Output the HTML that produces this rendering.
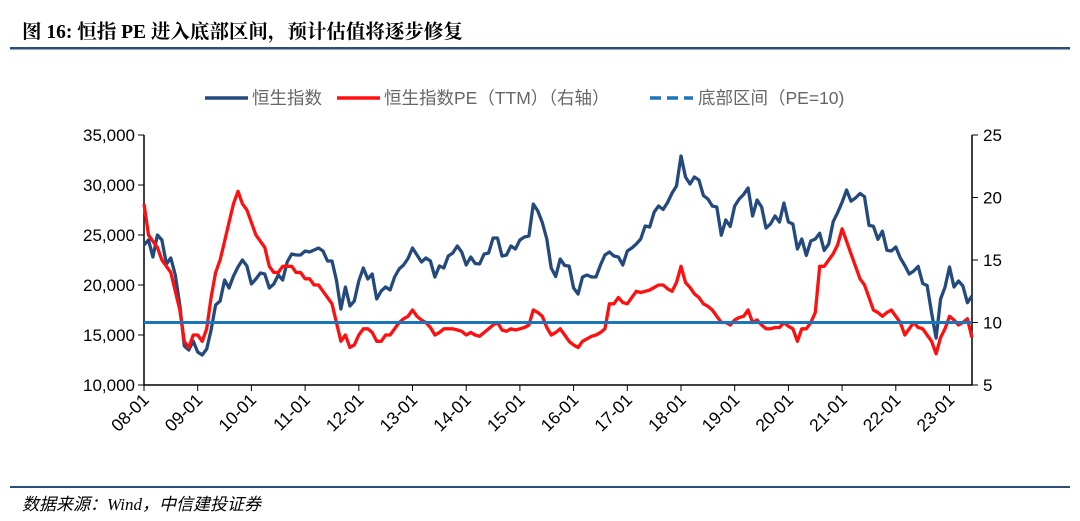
<!DOCTYPE html>
<html><head><meta charset="utf-8"><style>
body{margin:0;background:#fff;width:1080px;height:521px;overflow:hidden;font-family:"Liberation Sans","Noto Sans CJK SC",sans-serif}
svg{position:absolute;left:0;top:0}
</style></head><body>
<svg id="c" width="1080" height="521">
<text x="22" y="38" font-family="Liberation Serif,'Noto Serif CJK SC',serif" font-weight="bold" font-size="19.5" fill="#000">图 16: 恒指 PE 进入底部区间，预计估值将逐步修复</text>
<rect x="10" y="47" width="1060" height="2.5" fill="#2c4f7c"/>
<g font-size="17.5" fill="#666">
<g><line x1="205" y1="98" x2="248" y2="98" stroke="#244a7d" stroke-width="3.5"/><text x="252" y="104">恒生指数</text></g>
<g><line x1="337" y1="98" x2="380" y2="98" stroke="#ff1010" stroke-width="3.5"/><text x="384" y="104">恒生指数PE（TTM）（右轴）</text></g>
<g><line x1="650" y1="98" x2="693" y2="98" stroke="#1a75bb" stroke-width="3.5" stroke-dasharray="11,6"/><text x="698" y="104">底部区间（PE=10)</text></g>
</g>
<g id="axes"></g>
<g id="marks"></g>
<rect x="10" y="486" width="1060" height="2" fill="#2c4f7c"/>
<text x="22" y="510" font-size="17" font-style="italic" fill="#000" font-family="Liberation Serif,'Noto Sans CJK SC',serif">数据来源：Wind，中信建投证券</text>
</svg>
<script>
const yearLabels=["08-01","09-01","10-01","11-01","12-01","13-01","14-01","15-01","16-01","17-01","18-01","19-01","20-01","21-01","22-01","23-01"];
const leftTicks=[10000,15000,20000,25000,30000,35000];
const rightTicks=[5,10,15,20,25];
const hsi=[24000,24500,22800,25000,24500,22100,22700,21000,18000,13900,13500,14400,
13300,13000,13600,15500,18000,18400,20500,19700,20900,21800,22500,21900,
20100,20600,21200,21100,19700,20100,21000,20500,22300,23100,23000,23000,
23400,23300,23500,23700,23400,22400,22400,20500,17600,19800,17900,18400,
20400,21700,20600,21100,18600,19400,19800,19500,20800,21600,22000,22650,
23700,23000,22300,22700,22400,20800,21900,21700,22900,23200,23900,23300,
22000,22800,22150,22100,23100,23200,24700,24700,22900,23000,23900,23600,
24500,24800,24900,28100,27400,26250,24600,21700,20850,22600,21950,21900,
19700,19100,20800,21000,20800,20800,22000,23000,23300,22900,22800,22000,
23400,23700,24100,24600,25900,25800,27300,27900,27550,28250,29200,29900,
32900,30800,30100,30800,30500,28950,28600,27900,27800,24980,26500,25850,
27900,28600,29050,29700,26900,28500,27800,25700,26100,26900,26300,28200,
26300,26100,23600,24600,22960,24400,24600,25170,23460,24100,26340,27230,
28280,29500,28380,28700,29150,28830,25960,25880,24570,25380,23480,23400,
23800,22700,21950,21100,21400,21860,20150,19950,17220,14690,18600,19780,
21800,19800,20400,19900,18230,18900];
const pe=[19.5,17,16.5,16,15,14.5,14,12.5,11,8.5,8,9,
9,8.5,9.5,12,14,15,16.5,18,19.5,20.5,19.5,19,
18,17,16.5,16,14.5,14,14,14.5,14.5,14.5,14,14,
13.5,13.5,13,13,12.5,12,11.5,10,8.5,9,8,8.2,
9,9.5,9.5,9.2,8.5,8.5,9,9,9.5,10,10.3,10.5,
11,10.5,10.2,10,9.6,9,9.2,9.5,9.5,9.5,9.4,9.3,
9,9.2,9,8.9,9.2,9.5,9.8,10,9.4,9.3,9.5,9.4,
9.5,9.6,9.8,11,10.8,10.5,9.6,9,9.2,9.5,9,8.5,
8.2,8,8.5,8.7,8.9,9,9.2,9.5,11.5,11.5,12,11.6,
11.5,12,12.5,12.4,12.5,12.6,12.8,13,13,12.7,12.5,13.2,
14.5,13.2,12.8,12.3,12,11.5,11.3,11,10.5,10,10,9.8,
10.2,10.4,10.5,11,10,10.2,9.8,9.5,9.5,9.6,9.6,10,
9.7,9.5,8.5,9.5,9.5,10,10.8,14.5,14.5,15,15.5,16.2,
17.5,16.5,15.5,14.5,13.5,13,12,11,10.8,10.5,10.8,11,
10.5,10,9,9.5,10,9.6,9.5,9,8.5,7.5,8.8,9.5,
10.5,10.2,9.8,10,10.3,8.8];
const bottomPE=[10];
const X0=144,YW=53.7,YT=135,YB=385;
const xm=i=>X0+i/12*YW;
const yl=v=>YB-(v-10000)/25000*(YB-YT);
const yr=v=>YB-(v-5)/20*(YB-YT);
const NS="http://www.w3.org/2000/svg";
function mk(t,a,p){const e=document.createElementNS(NS,t);for(const k in a)e.setAttribute(k,a[k]);p.appendChild(e);return e;}
const ax=document.getElementById('axes'),mg=document.getElementById('marks');
const la=mk('line',{x1:X0,y1:YT,x2:X0,y2:YB,stroke:'#000','stroke-width':1.5},ax);

const ra=mk('line',{x1:972,y1:YT,x2:972,y2:YB,stroke:'#000','stroke-width':1.5},ax);

const xa=mk('line',{x1:X0,y1:YB,x2:972,y2:YB,stroke:'#000','stroke-width':1.5},ax);

leftTicks.forEach(v=>{const y=yl(v);mk('line',{x1:X0-6,y1:y,x2:X0,y2:y,stroke:'#000'},ax);
const t=mk('text',{x:X0-9,y:y+6,'text-anchor':'end','font-size':17,fill:'#000'},ax);t.textContent=v.toLocaleString('en-US');
});
rightTicks.forEach(v=>{const y=yr(v);mk('line',{x1:972,y1:y,x2:978,y2:y,stroke:'#000'},ax);
const t=mk('text',{x:983,y:y+6,'font-size':17,fill:'#000'},ax);t.textContent=v;
});
yearLabels.forEach((s,k)=>{const x=X0+k*YW;mk('line',{x1:x,y1:YB,x2:x,y2:YB+6,stroke:'#000'},ax);
const t=mk('text',{x:x+6,y:YB+16,'text-anchor':'end','font-size':17.5,fill:'#000',transform:`rotate(-45 ${x+6} ${YB+16})`},ax);t.textContent=s;
});
const p1=mk('polyline',{points:hsi.map((v,i)=>xm(i).toFixed(1)+','+yl(v).toFixed(1)).join(' '),fill:'none',stroke:'#244a7d','stroke-width':3.3,'stroke-linejoin':'round'},mg);

const p2=mk('polyline',{points:pe.map((v,i)=>xm(i).toFixed(1)+','+yr(v).toFixed(1)).join(' '),fill:'none',stroke:'#ff1010','stroke-width':3.3,'stroke-linejoin':'round'},mg);

const b=mk('line',{x1:X0,y1:yr(bottomPE[0]),x2:972,y2:yr(bottomPE[0]),stroke:'#1a75bb','stroke-width':3},mg);

</script>
</body></html>
